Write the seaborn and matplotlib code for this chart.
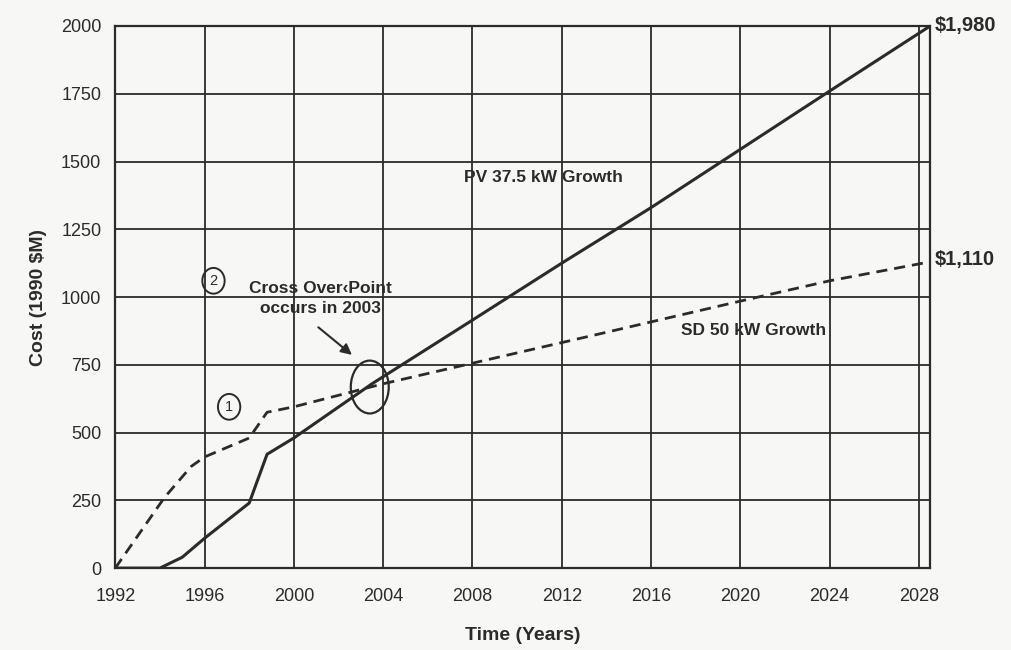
import numpy as np
import pandas as pd
import matplotlib
matplotlib.use("Agg")
import matplotlib.pyplot as plt
import seaborn as sns
from matplotlib.patches import Ellipse

# PV 37.5 kW growth (solid line)
pv_years = [1992, 1994, 1995, 1996, 1998, 1998.8, 2000, 2003.5, 2008, 2012, 2016, 2020, 2024, 2028.5]
pv_cost = [0, 0, 40, 110, 240, 420, 480, 680, 915, 1125, 1330, 1545, 1760, 2000]

# SD 50 kW growth (dashed line)
sd_years = [1992, 1994.2, 1995.4, 1996, 1998, 1998.8, 2000, 2004, 2009, 2014, 2020, 2024, 2028.5]
sd_cost = [0, 260, 375, 410, 480, 575, 595, 680, 775, 870, 985, 1060, 1130]

x_ticks = list(range(1992, 2029, 4))
y_ticks = list(range(0, 2001, 250))

sns.set_style("white")
plt.rcParams['font.family'] = ['Liberation Sans', 'DejaVu Sans']

ink = "#2b2b2b"
fig = plt.figure(figsize=(10.11, 6.5), dpi=100, facecolor="#f7f7f5")
ax = fig.add_axes([0.114, 0.126, 0.806, 0.834])
ax.set_facecolor("#f7f7f5")

pv = pd.DataFrame({"year": pv_years, "cost": pv_cost})
sd = pd.DataFrame({"year": sd_years, "cost": sd_cost})
sns.lineplot(data=pv, x="year", y="cost", ax=ax, color=ink, lw=2.2)
sns.lineplot(data=sd, x="year", y="cost", ax=ax, color=ink, lw=2.0, dashes=False)
ax.lines[-1].set_linestyle((0, (4, 2.5)))

ax.set_xlim(1992, 2028.5)
ax.set_ylim(0, 2000)
ax.set_xticks(x_ticks)
ax.set_yticks(y_ticks)
ax.grid(True, color=ink, lw=1.3)
ax.set_axisbelow(True)
for s in ax.spines.values():
    s.set_color(ink)
    s.set_linewidth(1.6)
ax.tick_params(direction="out", length=6, width=1.3, color=ink, labelsize=13, labelcolor=ink, pad=4)
ax.tick_params(axis="x", pad=8)

ax.set_xlabel("Time (Years)", fontsize=14, fontweight="bold", color=ink, labelpad=16)
ax.set_ylabel("Cost (1990 $M)", fontsize=14, fontweight="bold", color=ink, labelpad=10)

# annotations
ax.text(2011.2, 1440, "PV 37.5 kW Growth", fontsize=12.5, fontweight="bold", color=ink, ha="center", va="center")
ax.text(2020.6, 875, "SD 50 kW Growth", fontsize=12.5, fontweight="bold", color=ink, ha="center", va="center")
ax.text(2001.2, 995, "Cross Over\u2039Point\noccurs in 2003", fontsize=12.5, fontweight="bold",
        color=ink, ha="center", va="center", linespacing=1.35)
ax.add_patch(Ellipse((2003.4, 668), 1.7, 195, fill=False, ec=ink, lw=1.6))
ax.annotate("", xy=(2002.7, 780), xytext=(2001.0, 895),
            arrowprops=dict(arrowstyle="-|>", color=ink, lw=1.5, mutation_scale=16))
for label, (cx, cy) in {"1": (1997.1, 595), "2": (1996.4, 1060)}.items():
    ax.add_patch(Ellipse((cx, cy), 1.0, 95, fill=False, ec=ink, lw=1.4))
    ax.text(cx, cy, label, fontsize=10.5, color=ink, ha="center", va="center")

ax.text(1.005, 1.0, "$1,980", transform=ax.transAxes, fontsize=14.5, fontweight="bold", color=ink, ha="left", va="center")
ax.text(2028.7, 1140, "$1,110", fontsize=14.5, fontweight="bold", color=ink, ha="left", va="center", clip_on=False)

fig.savefig("out.png", dpi=100, facecolor=fig.get_facecolor())
